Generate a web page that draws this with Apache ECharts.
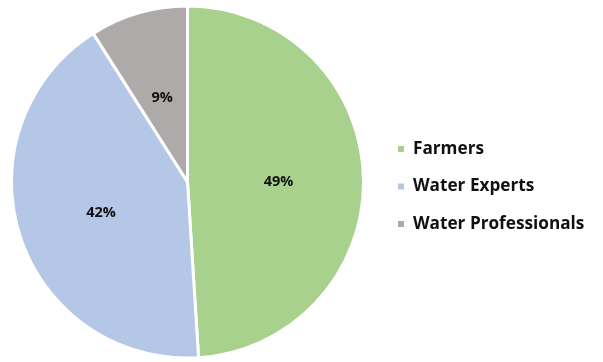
<!DOCTYPE html>
<html><head><meta charset="utf-8">
<script src="https://cdn.jsdelivr.net/npm/echarts@6/dist/echarts.min.js"></script>
<style>html,body{margin:0;padding:0;background:#fff}#c{width:603px;height:362px}</style>
</head><body><div id="c"></div>
<script>
const categories = ["Farmers", "Water Experts", "Water Professionals"];
const values = [49, 42, 9];
const colors = ["#a9d18e", "#b4c7e7", "#aeaaaa"];

const chart = echarts.init(document.getElementById('c'), null, {renderer: 'canvas'});
chart.setOption({
  animation: false,
  color: colors,
  legend: {
    orient: 'vertical',
    left: 391,
    top: 134,
    itemWidth: 8,
    itemHeight: 8,
    itemGap: 17.5,
    icon: 'rect',
    textStyle: {fontFamily: 'Open Sans', fontWeight: 'bold', fontSize: 17.2, lineHeight: 20, color: '#111', padding: [0, 0, 0, 3]},
    data: categories
  },
  series: [{
    type: 'pie',
    center: [187.5, 182],
    radius: 176,
    startAngle: 90,
    clockwise: true,
    itemStyle: {borderColor: '#fff', borderWidth: 3},
    label: {
      position: 'inside',
      formatter: '{c}%',
      fontFamily: 'Open Sans',
      fontWeight: 'bold',
      fontSize: 14.5,
      color: '#111',
      offset: [0, 3]
    },
    labelLine: {show: false},
    emphasis: {disabled: true},
    data: categories.map((n, i) => ({name: n, value: values[i]}))
  }]
});
</script></body></html>
